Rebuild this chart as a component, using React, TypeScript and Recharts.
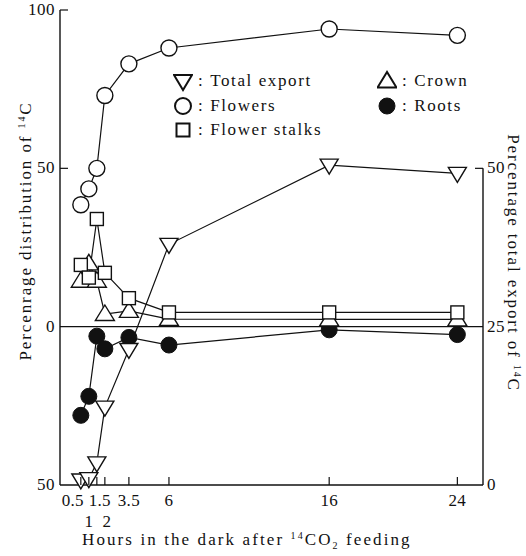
import React from 'react';
import { ComposedChart, Line, XAxis, YAxis, ReferenceLine, Legend } from 'recharts';

// hours in the dark after feeding
const hours = [0.5, 1, 1.5, 2, 3.5, 6, 16, 24];
// percentage distribution (left axis, roots plotted downwards)
const flowers = [38.5, 43.5, 50, 73, 83, 88, 94, 92];
const flowerStalks = [19.5, 15.5, 34, 17, 9, 4.5, 4.5, 4.5];
const crown = [14.5, 20, 14.5, 4, 5, 2.4, 2.3, 2.3];
const roots = [28, 22, 3, 7, 3.4, 5.8, 1, 2.5];
// percentage total export (right axis)
const totalExport = [0.8, 1, 3.5, 12.3, 21.4, 38, 50.5, 49.2];

const leftTicks = [-50, 0, 50, 100];
const rightTicks = [0, 25, 50];

const data = hours.map((h, i) => ({
  h,
  flowers: flowers[i],
  stalks: flowerStalks[i],
  crown: crown[i],
  roots: -roots[i],
  total: totalExport[i],
}));

const FONT = "'Liberation Serif', 'Times New Roman', 'DejaVu Serif', serif";
const INK = '#111';

type Kind = 'down' | 'circle' | 'square' | 'up' | 'dot';

function Marker({ kind, cx, cy, sw = 1.4 }: { kind: Kind; cx: number; cy: number; sw?: number }) {
  const common = { stroke: INK, strokeWidth: sw, fill: '#fff' };
  if (kind === 'circle') return <circle cx={cx} cy={cy} r={8} {...common} />;
  if (kind === 'dot') return <circle cx={cx} cy={cy} r={8} fill={INK} stroke={INK} />;
  if (kind === 'square') return <rect x={cx - 6.5} y={cy - 6.5} width={13} height={13} {...common} />;
  if (kind === 'up')
    return <polygon points={`${cx},${cy - 9} ${cx - 9.5},${cy + 6.5} ${cx + 9.5},${cy + 6.5}`} {...common} />;
  return <polygon points={`${cx - 9},${cy - 6} ${cx + 9},${cy - 6} ${cx},${cy + 9}`} {...common} />;
}

const dotOf = (kind: Kind) => (p: any) =>
  <Marker key={`${kind}-${p.index}`} kind={kind} cx={p.cx} cy={p.cy} />;

const xTickPos: Record<string, { dx: number; row: number }> = {
  '0.5': { dx: -8, row: 0 },
  '1': { dx: 0, row: 1 },
  '1.5': { dx: 3, row: 0 },
  '2': { dx: 2, row: 1 },
};

function XTick({ x, y, payload }: any) {
  const p = xTickPos[String(payload.value)] ?? { dx: 0, row: 0 };
  return (
    <g>
      <line x1={x} x2={x} y1={y} y2={y - 8} stroke={INK} strokeWidth={1.2} />
      <text x={x + p.dx} y={y + 21 + p.row * 21} textAnchor="middle" fontFamily={FONT} fontSize={17} fill={INK} letterSpacing={0.3}>
        {payload.value}
      </text>
    </g>
  );
}

function LeftTick({ x, y, payload }: any) {
  const v = payload.value;
  return (
    <g>
      {v > 0 && <line x1={x} x2={x + 8} y1={y} y2={y} stroke={INK} strokeWidth={1.2} />}
      <text x={x - 5} y={y + 5} textAnchor="end" fontFamily={FONT} fontSize={17} fill={INK} letterSpacing={0.5}>
        {Math.abs(v)}
      </text>
    </g>
  );
}

function RightTick({ x, y, payload }: any) {
  const v = payload.value;
  return (
    <g>
      {v === 50 && <line x1={x} x2={x - 8} y1={y} y2={y} stroke={INK} strokeWidth={1.2} />}
      <text x={x + 4} y={y + 5} textAnchor="start" fontFamily={FONT} fontSize={17} fill={INK} letterSpacing={0.5}>
        {v}
      </text>
    </g>
  );
}

const titleStyle = { fontFamily: FONT, fontSize: 17, fill: INK, letterSpacing: 1.9 };

function LeftTitle() {
  return (
    <text x={31} y={231} textAnchor="middle" transform="rotate(-90 31 231)" style={titleStyle}>
      Percenrage distribution of <tspan fontSize={10} dy={-6}>14</tspan><tspan dy={6}>C</tspan>
    </text>
  );
}

function RightTitle() {
  return (
    <text x={508} y={263} textAnchor="middle" transform="rotate(90 508 263)" style={titleStyle}>
      Percentage  total export of <tspan fontSize={10} dy={-6}>14</tspan><tspan dy={6}>C</tspan>
    </text>
  );
}

function BottomTitle() {
  return (
    <text x={82} y={545} textAnchor="start" style={{ ...titleStyle, letterSpacing: 2.1 }}>
      Hours in the dark after <tspan fontSize={10} dy={-6}>14</tspan><tspan dy={6}>CO</tspan>
      <tspan fontSize={10} dy={4}>2</tspan><tspan dy={-4}> feeding</tspan>
    </text>
  );
}

const legendItems: { kind: Kind; label: string; col: number; row: number }[] = [
  { kind: 'down', label: 'Total export', col: 0, row: 0 },
  { kind: 'circle', label: 'Flowers', col: 0, row: 1 },
  { kind: 'square', label: 'Flower stalks', col: 0, row: 2 },
  { kind: 'up', label: 'Crown', col: 1, row: 0 },
  { kind: 'dot', label: 'Roots', col: 1, row: 1 },
];

function LegendBox() {
  return (
    <div style={{ position: 'relative', width: 526, height: 1 }}>
      {legendItems.map((it) => (
        <div
          key={it.label}
          style={{
            position: 'absolute',
            left: it.col === 0 ? 173 : 377,
            top: 70 + it.row * 24.5,
            display: 'flex',
            alignItems: 'center',
            fontFamily: FONT,
            fontSize: 17,
            color: INK,
            letterSpacing: 1.6,
            whiteSpace: 'nowrap',
          }}
        >
          <svg width={20} height={22}>
            <Marker kind={it.kind} cx={10} cy={11} sw={2} />
          </svg>
          <span style={{ marginLeft: 5 }}>:&nbsp;{it.label}</span>
        </div>
      ))}
    </div>
  );
}

export default function App() {
  return (
    <div style={{ position: 'absolute', left: 0, top: 0, background: '#fff' }}>
      <ComposedChart width={526} height={556} data={data} margin={{ top: 10, right: 0, bottom: 0, left: 0 }}>
        <XAxis
          type="number"
          dataKey="h"
          domain={[-0.8, 25.6]}
          ticks={hours}
          interval={0}
          height={71}
          tickSize={0}
          tickMargin={0}
          tick={<XTick />}
          axisLine={{ stroke: INK, strokeWidth: 1.6 }}
          label={<BottomTitle />}
        />
        <YAxis
          yAxisId="L"
          type="number"
          domain={[-50, 100]}
          ticks={leftTicks}
          interval={0}
          width={60}
          tickSize={0}
          tickMargin={0}
          tick={<LeftTick />}
          axisLine={{ stroke: INK, strokeWidth: 1.4 }}
          label={<LeftTitle />}
        />
        <YAxis
          yAxisId="R"
          orientation="right"
          type="number"
          domain={[0, 75]}
          ticks={rightTicks}
          interval={0}
          width={43}
          tickSize={0}
          tickMargin={0}
          tick={<RightTick />}
          axisLine={false}
          label={<RightTitle />}
        />
        <ReferenceLine yAxisId="L" y={0} stroke={INK} strokeWidth={1.1} />
        <ReferenceLine
          yAxisId="R"
          segment={[{ x: 25.6, y: 0 }, { x: 25.6, y: 50 }]}
          stroke={INK}
          strokeWidth={1.4}
        />
        <Line yAxisId="L" dataKey="roots" stroke={INK} strokeWidth={1.2} dot={dotOf('dot')} isAnimationActive={false} />
        <Line yAxisId="L" dataKey="crown" stroke={INK} strokeWidth={1.2} dot={dotOf('up')} isAnimationActive={false} />
        <Line yAxisId="L" dataKey="stalks" stroke={INK} strokeWidth={1.2} dot={dotOf('square')} isAnimationActive={false} />
        <Line yAxisId="L" dataKey="flowers" stroke={INK} strokeWidth={1.2} dot={dotOf('circle')} isAnimationActive={false} />
        <Line yAxisId="R" dataKey="total" stroke={INK} strokeWidth={1.2} dot={dotOf('down')} isAnimationActive={false} />
        <Legend
          layout="vertical"
          align="center"
          verticalAlign="middle"
          wrapperStyle={{ left: 0, top: 0, width: 526, height: 1 }}
          content={() => <LegendBox />}
        />
      </ComposedChart>
    </div>
  );
}
